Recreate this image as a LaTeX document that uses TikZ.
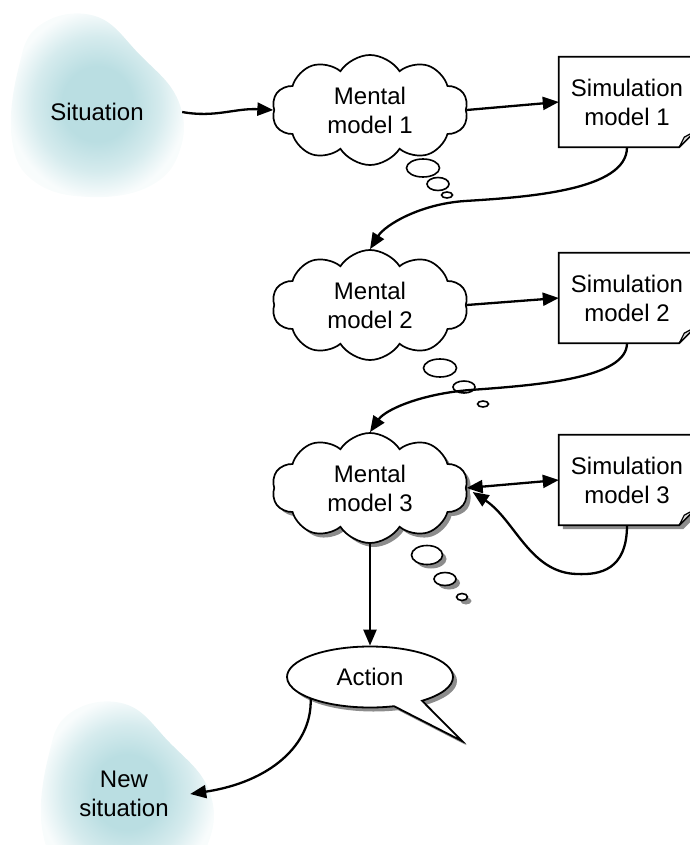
\documentclass[tikz,border=0pt]{standalone}
\usepackage{fontspec}
\setmainfont{Liberation Sans}
\usetikzlibrary{shapes.symbols,shapes.callouts,shapes.geometric,shadows,arrows.meta,backgrounds}
\definecolor{blobc}{RGB}{186,222,226}
\colorlet{blobm}{blobc!60!white}
\colorlet{blobe}{blobc!10!white}
\pgfdeclareradialshading{blobshade}{\pgfpoint{0bp}{0bp}}{color(0bp)=(blobc); color(10bp)=(blobc); color(18bp)=(blobm); color(25bp)=(blobe); color(50bp)=(white)}
\newcommand\simframe[1]{%
  \draw[line width=1.8pt, fill=white, line join=miter] (#1.north west) -- (#1.north east) -- ([yshift=16pt]#1.south east) -- ([xshift=-16pt]#1.south east) -- (#1.south west) -- cycle;
  \draw[line width=1.2pt, fill=gray!30, line join=round] ([xshift=-16pt]#1.south east) -- ([xshift=-11pt,yshift=10pt]#1.south east) -- ([yshift=16pt]#1.south east) -- cycle;}
\newcommand\simshade[1]{%
  \fill[black!45] ([shift={(4pt,-4pt)}]#1.north west) -- ([shift={(4pt,-4pt)}]#1.north east) -- ([shift={(4pt,12pt)}]#1.south east) -- ([shift={(-12pt,-4pt)}]#1.south east) -- ([shift={(4pt,-4pt)}]#1.south west) -- cycle;}
\begin{document}
\begin{tikzpicture}[x=1pt,y=-1pt,
  font=\fontsize{24}{29}\selectfont,
  tip/.tip={Triangle[length=16pt,width=13pt]},
  cloudn/.style={cloud, draw, cloud puffs=10, cloud puff arc=115, aspect=1.8,
    minimum width=196pt, minimum height=110pt, line width=1.7pt, align=center,
    inner sep=0pt, fill=white},
  simbox/.style={rectangle, minimum width=136pt, minimum height=90pt, align=center, inner sep=0pt},
  bub/.style={ellipse, draw, line width=1.6pt, inner sep=0pt, fill=white},
  shad/.style={drop shadow={shadow xshift=4pt, shadow yshift=-4pt, fill=black!45, opacity=1}},
  conn/.style={line width=2.3pt, -tip},
  blobtext/.style={align=center, inner sep=0pt}]
\useasboundingbox (0,0) rectangle (689,845);
\clip (0,0) rectangle (689,845);

% text nodes of the situations
\node[blobtext, minimum width=170pt] (sit) at (97,112) {Situation};
\node[blobtext, minimum width=132pt] (ns) at (124,794) {New\\situation};

% mental models
\node[cloudn] (m1) at (370,110) {Mental\\model 1};
\node[cloudn] (m2) at (370,305) {Mental\\model 2};
\node[cloudn, shad] (m3) at (370,488) {Mental\\model 3};

% simulation models (text; frames drawn on background)
\node[simbox] (s1) at (627,102) {Simulation\\model 1};
\node[simbox] (s2) at (627,298) {Simulation\\model 2};
\node[simbox] (s3) at (627,480) {Simulation\\model 3};

% thought bubbles
\node[bub, minimum width=33pt, minimum height=18pt] (b11) at (423,168) {};
\node[bub, minimum width=22pt, minimum height=13pt] (b12) at (438,184) {};
\node[bub, minimum width=11pt, minimum height=6pt] (b13) at (447,195) {};
\node[bub, minimum width=33pt, minimum height=18pt] (b21) at (440,368) {};
\node[bub, minimum width=22pt, minimum height=12pt] (b22) at (464,387) {};
\node[bub, minimum width=11pt, minimum height=6pt] (b23) at (483,404) {};
\node[bub, shad, minimum width=31pt, minimum height=19pt] (b31) at (427,555) {};
\node[bub, shad, minimum width=22pt, minimum height=13pt] (b32) at (445,579) {};
\node[bub, shad, minimum width=11pt, minimum height=7pt] (b33) at (462,597) {};

% action
\node[ellipse callout, draw, line width=1.8pt, fill=white, shad,
  minimum width=166pt, minimum height=61pt, inner sep=0pt,
  callout absolute pointer={(462,741)}, callout pointer arc=22] (act) at (370,677) {Action};

\begin{scope}[on background layer]
  \shade[shading=blobshade] plot[smooth cycle, tension=0.7] coordinates
    {(40,25) (95,16) (140,55) (178,100) (180,150) (150,186) (90,197) (35,182) (12,140) (18,70)};
  \shade[shading=blobshade] plot[smooth cycle, tension=0.7] coordinates
    {(70,713) (125,704) (170,743) (208,788) (210,838) (180,874) (120,885) (65,870) (42,828) (48,758)};
  \simframe{s1}
  \simframe{s2}
  \simshade{s3}
  \simframe{s3}
\end{scope}

% connectors
\draw[conn] (sit.east) .. controls (215,118) and (235,108) .. (m1.west);
\draw[conn] (m1.east) -- (s1.west);
\draw[conn] (s1.south) .. controls (627,190) and (530,197) .. (465,201)
  .. controls (420,204) and (385,225) .. (m2.north);
\draw[conn] (m2.east) -- (s2.west);
\draw[conn] (s2.south) .. controls (627,378) and (540,385) .. (470,390)
  .. controls (420,394) and (385,410) .. (m3.north);
\draw[line width=2.3pt, tip-tip] (m3.east) -- (s3.west);
\coordinate (m3in) at ([shift={(6pt,-4pt)}]m3.east);
\draw[conn] (s3.south) .. controls (627,570) and (600,575) .. (577,574)
  .. controls (530,573) and (515,520) .. (m3in);
\draw[conn] (m3.south) -- (act.north);
\draw[conn] (act.south west) .. controls (312,745) and (270,782) .. (ns.east);
\end{tikzpicture}
\end{document}
